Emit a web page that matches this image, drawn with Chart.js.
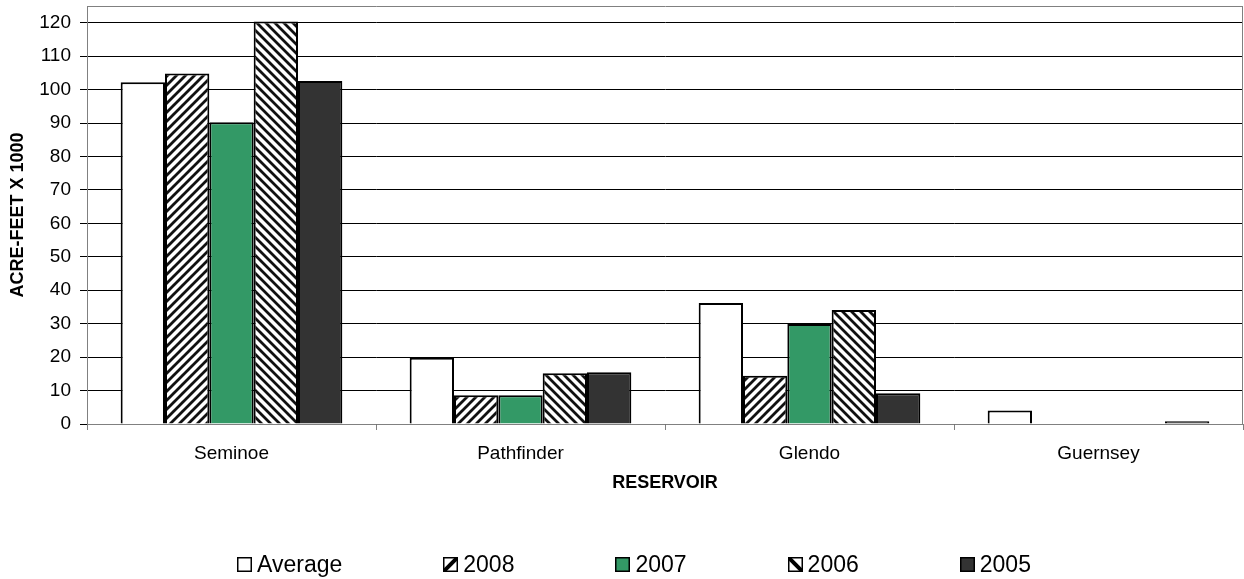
<!DOCTYPE html>
<html>
<head>
<meta charset="utf-8">
<script src="https://cdn.jsdelivr.net/npm/chart.js@4.4.1/dist/chart.umd.min.js"></script>
<style>
  html, body { margin: 0; padding: 0; background: #fff; }
  #wrap { position: relative; width: 1244px; height: 579px; }
  #legend { position: absolute; left: 237px; top: 552px; display: flex; font: 23px "Liberation Sans", Arial, sans-serif; line-height: 25px; color: #000; }
  #legend .item { display: flex; align-items: center; margin-right: 101px; }
  #legend canvas { width: 15px; height: 15px; margin-right: 5px; }
</style>
</head>
<body>
<div id="wrap">
  <canvas id="chart" width="1244" height="579"></canvas>
  <div id="legend"></div>
</div>
<script>
  // reservoir storage, acre-feet x 1000
  const reservoirs = ['Seminoe', 'Pathfinder', 'Glendo', 'Guernsey'];
  const average = [102.2, 19.8, 36.2, 4.0];
  const y2008 = [104.8, 8.6, 14.4, 0];
  const y2007 = [90.2, 8.6, 29.9, 0];
  const y2006 = [120.4, 15.2, 34.1, 0];
  const y2005 = [102.6, 15.5, 9.2, 0.8];
  const yTicks = [0, 10, 20, 30, 40, 50, 60, 70, 80, 90, 100, 110, 120];
  const yMax = 125; // plot frame sits a bit above the last labelled tick

  Chart.defaults.font.family = '"Liberation Sans", Arial, sans-serif';
  Chart.defaults.color = '#000';

  // diagonal hatch; dir 1 = "/", dir -1 = "\"
  function hatch(ctx, dir) {
    const n = 9;
    const c = document.createElement('canvas');
    c.width = c.height = n;
    const g = c.getContext('2d');
    g.fillStyle = '#fff';
    g.fillRect(0, 0, n, n);
    g.strokeStyle = '#111';
    g.lineWidth = 2.8;
    g.beginPath();
    if (dir > 0) {
      g.moveTo(-n, n); g.lineTo(n, -n);
      g.moveTo(0, n); g.lineTo(n, 0);
      g.moveTo(0, 2 * n); g.lineTo(2 * n, 0);
    } else {
      g.moveTo(0, -n); g.lineTo(2 * n, n);
      g.moveTo(0, 0); g.lineTo(n, n);
      g.moveTo(-n, 0); g.lineTo(n, 2 * n);
    }
    g.stroke();
    return ctx.createPattern(c, 'repeat');
  }

  const canvas = document.getElementById('chart');
  const ctx = canvas.getContext('2d');

  const series = [
    { label: 'Average', data: average, fill: '#ffffff' },
    { label: '2008', data: y2008, fill: hatch(ctx, 1), hatch: 1 },
    { label: '2007', data: y2007, fill: '#339966' },
    { label: '2006', data: y2006, fill: hatch(ctx, -1), hatch: -1 },
    { label: '2005', data: y2005, fill: '#333333' },
  ];

  const frame = {
    id: 'frame',
    beforeDatasetsDraw(chart) {
      const a = chart.chartArea, c = chart.ctx;
      c.save();
      c.strokeStyle = '#808080';
      c.lineWidth = 1;
      c.beginPath();
      c.moveTo(a.right - 0.5, a.top);
      c.lineTo(a.right - 0.5, a.bottom);
      c.stroke();
      c.restore();
    }
  };

  new Chart(ctx, {
    type: 'bar',
    data: {
      labels: reservoirs,
      datasets: series.map(s => ({
        label: s.label,
        data: s.data,
        backgroundColor: s.fill,
        borderColor: '#000',
        borderWidth: 2,
        barPercentage: 1,
        categoryPercentage: 0.767,
      })),
    },
    options: {
      responsive: false,
      animation: false,
      layout: { padding: { top: 6, right: 1, bottom: 81, left: 0 } },
      plugins: {
        legend: { display: false },
        tooltip: { enabled: false },
      },
      scales: {
        x: {
          afterFit: s => { s.height = 74; s.paddingLeft = 0; s.paddingRight = 0; },
          ticks: { padding: 12, font: { size: 19 }, color: '#000' },
          grid: { drawOnChartArea: false, tickLength: 6, color: '#808080', offset: true },
          border: { color: '#808080' },
          title: { display: true, text: 'RESERVOIR', font: { size: 18, weight: 'bold' }, color: '#000', padding: { top: 0, bottom: 4 } },
        },
        y: {
          min: 0, max: yMax,
          afterBuildTicks: s => { s.ticks = yTicks.concat([yMax]).map(v => ({ value: v })); },
          afterFit: s => { s.width = 87; s.paddingTop = 0; s.paddingBottom = 0; },
          ticks: { padding: 9, font: { size: 19 }, color: '#000', callback: v => (yTicks.includes(v) ? v : '') },
          grid: {
            color: c => (c.tick && c.tick.value === yMax ? '#808080' : '#000'),
            tickColor: c => (c.tick && c.tick.value === yMax ? 'rgba(0,0,0,0)' : '#000'),
            tickLength: 7,
          },
          border: { color: '#808080' },
          title: { display: true, text: 'ACRE-FEET X 1000', font: { size: 18, weight: 'bold' }, color: '#000', padding: { top: 7, bottom: 0 } },
        },
      },
    },
    plugins: [frame],
  });

  // legend
  const legend = document.getElementById('legend');
  series.forEach(s => {
    const item = document.createElement('div');
    item.className = 'item';
    const box = document.createElement('canvas');
    box.width = box.height = 15;
    const b = box.getContext('2d');
    b.fillStyle = s.hatch ? '#fff' : s.fill;
    b.fillRect(0, 0, 15, 15);
    if (s.hatch) {
      b.strokeStyle = '#000';
      b.lineWidth = 4;
      b.beginPath();
      if (s.hatch > 0) { b.moveTo(0, 15); b.lineTo(15, 0); }
      else { b.moveTo(0, 0); b.lineTo(15, 15); }
      b.stroke();
    }
    b.strokeStyle = '#000';
    b.lineWidth = 1.5;
    b.strokeRect(0.75, 0.75, 13.5, 13.5);
    const txt = document.createElement('span');
    txt.textContent = s.label;
    item.appendChild(box);
    item.appendChild(txt);
    legend.appendChild(item);
  });
</script>
</body>
</html>
